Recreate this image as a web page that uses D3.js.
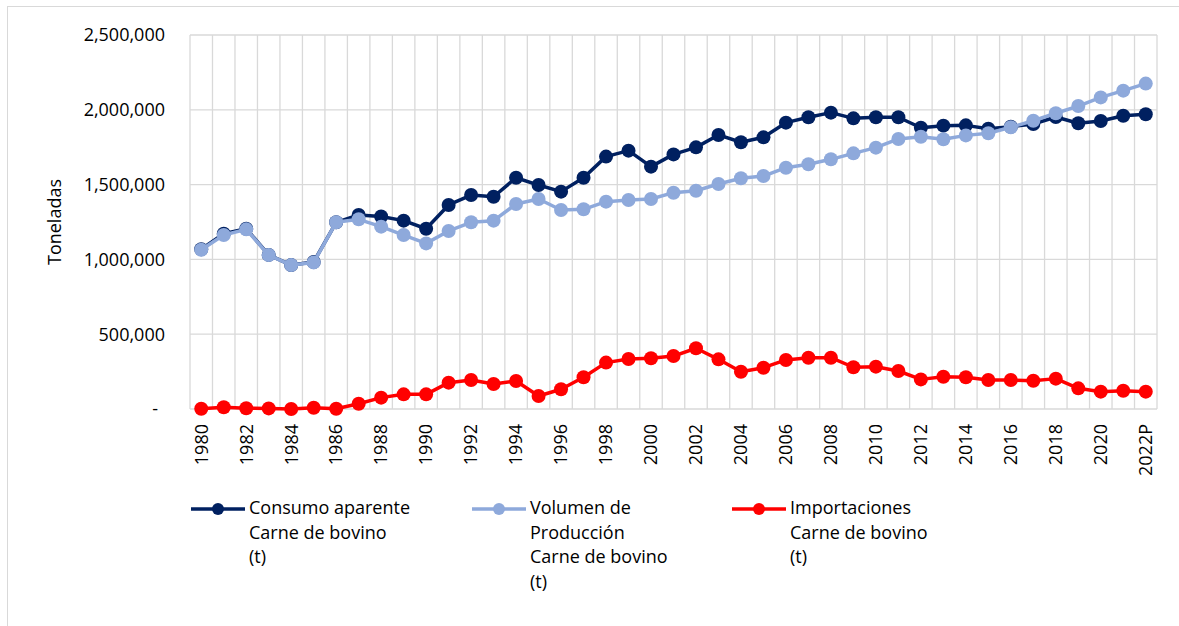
<!DOCTYPE html>
<html>
<head>
<meta charset="utf-8">
<script src="https://cdn.jsdelivr.net/npm/d3@7"></script>
<style>
  body { margin: 0; background: #fff; }
  text { font-family: "Open Sans", sans-serif; fill: #000; }
</style>
</head>
<body>
<svg id="chart"></svg>
<script>
const width = 1179;
const height = 626;
const margin = {top: 35, right: 22, bottom: 217, left: 190};

// data
const years = d3.range(1980, 2023).map(d => d == 2022 ? '2022P' : String(d));
const consumo = [1068000,1172000,1205000,1030000,962000,983000,1248000,1297000,1287000,1259000,
  1205000,1364000,1430000,1419000,1546000,1497000,1453000,1546000,1687000,1727000,
  1620000,1702000,1749000,1832000,1783000,1816000,1914000,1950000,1981000,1943000,
  1950000,1950000,1880000,1894000,1896000,1874000,1887000,1905000,1952000,1910000,
  1925000,1960000,1970000];
const produccion = [1065000,1163000,1201000,1029000,962000,980000,1248000,1268000,1219000,1163000,
  1107000,1190000,1248000,1259000,1370000,1404000,1330000,1335000,1386000,1397000,
  1404000,1446000,1459000,1504000,1542000,1557000,1613000,1636000,1669000,1709000,
  1747000,1805000,1820000,1803000,1829000,1843000,1883000,1927000,1977000,2025000,
  2083000,2128000,2175000];
const importaciones = [2000,12000,5000,4000,0,8000,2000,35000,76000,98000,
  98000,176000,194000,167000,187000,87000,132000,212000,310000,334000,
  339000,354000,406000,332000,249000,276000,328000,343000,343000,279000,
  283000,254000,198000,216000,212000,194000,194000,189000,203000,138000,
  116000,122000,116000];
const yTicks = [0, 500000, 1000000, 1500000, 2000000, 2500000];
const seriesNames = [
  ['Consumo aparente', 'Carne de bovino', '(t)'],
  ['Volumen de', 'Producción', 'Carne de bovino', '(t)'],
  ['Importaciones', 'Carne de bovino', '(t)']
];
const colors = ['#002060', '#8EA9DB', '#FF0000'];

const series = [consumo, produccion, importaciones].map((vals, i) => ({
  name: seriesNames[i],
  color: colors[i],
  values: vals.map((v, j) => ({year: years[j], value: v}))
}));

const svg = d3.select('#chart')
  .attr('width', width)
  .attr('height', height);

// outer chart border
svg.append('rect')
  .attr('x', 7.5).attr('y', 6.5)
  .attr('width', 1300).attr('height', 800)
  .attr('fill', 'none')
  .attr('stroke', '#d9d9d9');

const x = d3.scaleBand().domain(years).range([margin.left, width - margin.right]).padding(0);
const y = d3.scaleLinear().domain([0, 2500000]).range([height - margin.bottom, margin.top]);
const cx = d => x(d) + x.bandwidth() / 2;

// grid
const grid = svg.append('g').attr('stroke', '#d9d9d9').attr('stroke-width', 1.3);
grid.selectAll('.vline')
  .data(years.map(d => x(d)).concat([x.range()[1]]))
  .enter().append('line')
  .attr('x1', d => d).attr('x2', d => d)
  .attr('y1', y(2500000)).attr('y2', y(0));
grid.selectAll('.hline')
  .data(yTicks)
  .enter().append('line')
  .attr('x1', x.range()[0]).attr('x2', x.range()[1])
  .attr('y1', d => y(d)).attr('y2', d => y(d));

// y axis labels
const fmt = d3.format(',');
svg.append('g').selectAll('text')
  .data(yTicks)
  .enter().append('text')
  .attr('x', d => d == 0 ? 158 : 165)
  .attr('y', d => y(d))
  .attr('dy', '0.35em')
  .attr('text-anchor', 'end')
  .style('font-size', '18px')
  .text(d => d == 0 ? '-' : fmt(d));

svg.append('text')
  .attr('transform', 'translate(61,222) rotate(-90)')
  .attr('text-anchor', 'middle')
  .style('font-size', '18px')
  .text('Toneladas');

// x axis labels
svg.append('g').selectAll('text')
  .data(years.filter((d, i) => i % 2 == 0))
  .enter().append('text')
  .attr('transform', d => `translate(${cx(d)},${y(0) + 15}) rotate(-90)`)
  .attr('dy', '0.35em')
  .attr('text-anchor', 'end')
  .style('font-size', '18px')
  .text(d => d);

// lines and markers
const line = d3.line().x(d => cx(d.year)).y(d => y(d.value));
series.forEach(s => {
  const g = svg.append('g');
  g.append('path')
    .datum(s.values)
    .attr('fill', 'none')
    .attr('stroke', s.color)
    .attr('stroke-width', 3.5)
    .attr('stroke-linejoin', 'round')
    .attr('d', line);
  g.selectAll('circle')
    .data(s.values)
    .enter().append('circle')
    .attr('cx', d => cx(d.year))
    .attr('cy', d => y(d.value))
    .attr('r', 7)
    .attr('fill', s.color);
});

// legend
const legendX = [191, 472, 732];
const legend = svg.append('g').selectAll('g')
  .data(series)
  .enter().append('g')
  .attr('transform', (d, i) => `translate(${legendX[i]},509)`);
legend.append('line')
  .attr('x1', 0).attr('x2', 54)
  .attr('stroke', d => d.color)
  .attr('stroke-width', 3.5);
legend.append('circle')
  .attr('cx', 27).attr('r', 6)
  .attr('fill', d => d.color);
legend.append('text')
  .attr('x', 58)
  .style('font-size', '18px')
  .selectAll('tspan')
  .data(d => d.name)
  .enter().append('tspan')
  .attr('x', 58)
  .attr('y', (d, i) => 5 + i * 24.5)
  .text(d => d);
</script>
</body>
</html>
